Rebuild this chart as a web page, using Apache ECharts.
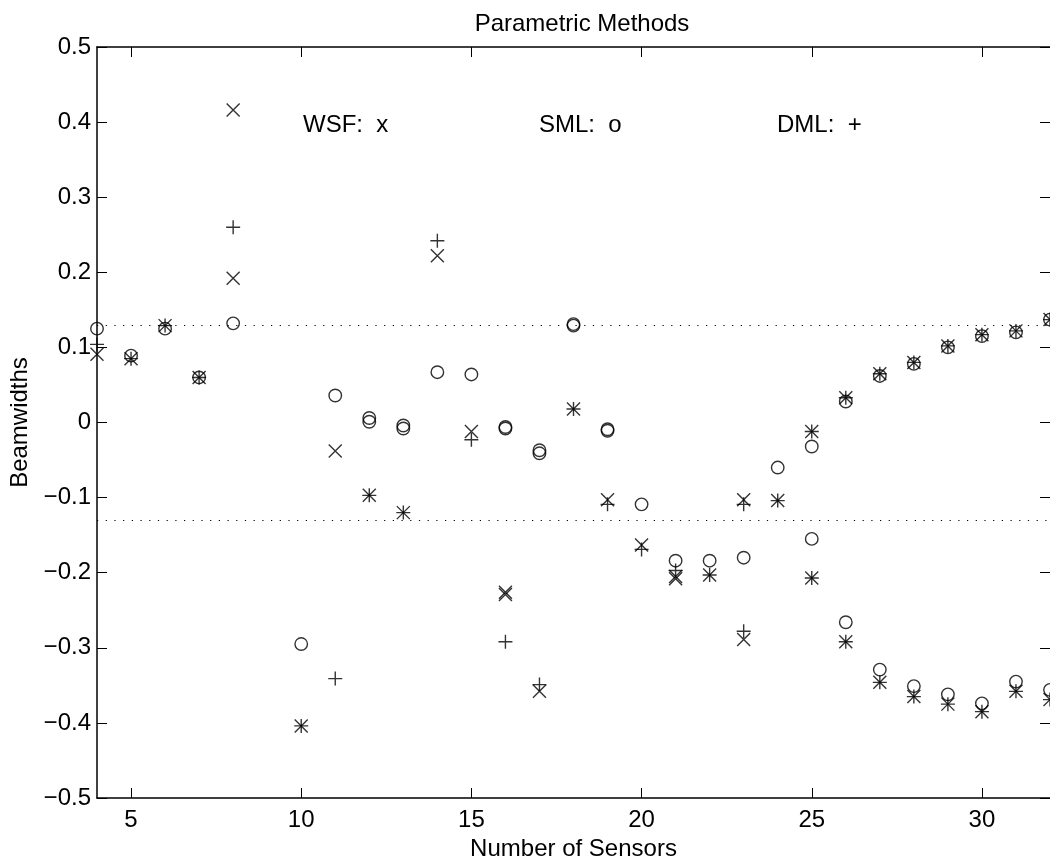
<!DOCTYPE html>
<html>
<head>
<meta charset="utf-8">
<script src="https://cdn.jsdelivr.net/npm/echarts@6/dist/echarts.min.js"></script>
<style>
html,body{margin:0;padding:0;background:#fff;}
#chart{width:1050px;height:866px;}
</style>
</head>
<body>
<div id="chart"></div>
<script>
// ---- data ----
const sensors = [4,5,6,7,8,9,10,11,12,13,14,15,16,17,18,19,20,21,22,23,24,25,26,27,28,29,30,31,32];
const wsfA = [0.091,0.085,0.129,0.060,0.416,null,-0.404,-0.038,-0.097,-0.120,0.222,-0.012,-0.226,-0.358,0.018,-0.103,-0.163,-0.205,-0.203,-0.103,-0.104,-0.012,0.033,0.065,0.080,0.102,0.117,0.122,0.137];
const wsfB = [null,null,null,null,0.192,null,null,null,null,null,null,null,-0.229,null,null,null,null,-0.208,null,-0.289,null,-0.207,-0.292,-0.346,-0.365,-0.375,-0.385,-0.358,-0.369];
const smlA = [0.125,0.089,0.125,0.060,0.132,null,-0.295,0.036,0.006,-0.004,0.067,0.064,-0.006,-0.037,0.131,-0.009,-0.109,-0.184,-0.184,-0.180,-0.060,-0.032,0.028,0.062,0.078,0.100,0.115,0.120,0.137];
const smlB = [null,null,null,null,null,null,null,null,0.001,-0.008,null,null,-0.008,-0.041,0.129,-0.011,null,null,null,null,null,-0.155,-0.266,-0.329,-0.351,-0.362,-0.374,-0.345,-0.356];
const dmlA = [0.104,0.085,0.129,0.060,0.260,null,-0.404,-0.341,-0.097,-0.120,0.242,-0.023,-0.292,-0.349,0.018,-0.109,-0.169,-0.197,-0.203,-0.109,-0.104,-0.012,0.033,0.065,0.080,0.102,0.117,0.122,0.137];
const dmlB = [null,null,null,null,null,null,null,null,null,null,null,null,null,null,null,null,null,null,null,-0.278,null,-0.207,-0.292,-0.346,-0.365,-0.375,-0.385,-0.358,-0.369];
const thresholds = [0.125, -0.125];
const xTicks = [5,10,15,20,25,30];
const legendTexts = ['WSF:  x','SML:  o','DML:  +'];
const titleText = 'Parametric Methods';
const xName = 'Number of Sensors';
const yName = 'Beamwidths';

// ---- build ----
function pairs(a, b){
  const out = [];
  sensors.forEach((s,i)=>{
    if (a[i] !== null) out.push([s, a[i]]);
    if (b[i] !== null) out.push([s, b[i]]);
  });
  return out;
}
const FONT = '"Liberation Sans", Arial, Helvetica, sans-serif';
const fmtY = v => {
  const r = Math.round(v*10)/10;
  if (Math.abs(r) < 1e-9) return '0';
  return (r < 0 ? '\u2212' : '') + Math.abs(r).toFixed(1);
};
const markStyle = {color:'rgba(0,0,0,0)', borderColor:'#000', borderWidth:1.3};

const chart = echarts.init(document.getElementById('chart'), null, {renderer:'canvas'});
const xBase = {
  type:'value', min:4, max:32,
  splitLine:{show:false},
  axisLine:{onZero:false, lineStyle:{color:'#000', width:1.5}},
  axisTick:{inside:true, length:10, customValues:xTicks, lineStyle:{color:'#000', width:1}}
};
const yBase = {
  type:'value', min:-0.5, max:0.5, interval:0.1,
  splitLine:{show:false},
  axisLine:{onZero:false, lineStyle:{color:'#000', width:1.5}},
  axisTick:{inside:true, length:10, lineStyle:{color:'#000', width:1}}
};
const option = {
  animation:false,
  backgroundColor:'#fff',
  title:{text:titleText, left:577, textAlign:'center', top:7,
    textStyle:{fontFamily:FONT, fontSize:24, fontWeight:'normal', color:'#000'}},
  grid:{left:97, right:0, top:47, bottom:68, containLabel:false},
  xAxis:[
    Object.assign({}, xBase, {position:'bottom',
      name:xName, nameLocation:'middle', nameGap:36,
      nameTextStyle:{fontFamily:FONT, fontSize:24, color:'#000'},
      axisLabel:{customValues:xTicks, margin:10, fontFamily:FONT, fontSize:24, color:'#000'}}),
    Object.assign({}, xBase, {position:'top', axisLabel:{show:false}})
  ],
  yAxis:[
    Object.assign({}, yBase, {position:'left',
      name:yName, nameLocation:'middle', nameGap:62, nameRotate:90,
      nameTextStyle:{fontFamily:FONT, fontSize:24, color:'#000'},
      axisLabel:{margin:6, formatter:fmtY, fontFamily:FONT, fontSize:24, color:'#000'}}),
    Object.assign({}, yBase, {position:'right', axisLabel:{show:false},
      axisLine:{show:false, onZero:false},
      axisTick:{show:true, inside:true, length:10, lineStyle:{color:'#000', width:1}}})
  ],
  graphic:[
    {type:'text', left:303, top:113, style:{text:legendTexts[0], font:'24px '+FONT, fill:'#000'}},
    {type:'text', left:539, top:113, style:{text:legendTexts[1], font:'24px '+FONT, fill:'#000'}},
    {type:'text', left:777, top:113, style:{text:legendTexts[2], font:'24px '+FONT, fill:'#000'}}
  ],
  series:[
    {type:'scatter', name:'WSF', xAxisIndex:0, yAxisIndex:0, clip:false,
      symbol:'path://M0,0L10,10M10,0L0,10', symbolSize:13,
      itemStyle:Object.assign({}, markStyle, {borderWidth:1.4}),
      data:pairs(wsfA, wsfB),
      markLine:{silent:true, symbol:'none', label:{show:false},
        lineStyle:{color:'#000', width:1.2, type:[1.2,7.5]},
        data:thresholds.map(t=>({yAxis:t}))}
    },
    {type:'scatter', name:'SML', xAxisIndex:0, yAxisIndex:0, clip:false,
      symbol:'circle', symbolSize:12.5,
      itemStyle:Object.assign({}, markStyle, {borderWidth:1.4}),
      data:pairs(smlA, smlB)},
    {type:'scatter', name:'DML', xAxisIndex:0, yAxisIndex:0, clip:false,
      symbol:'path://M5,0L5,10M0,5L10,5', symbolSize:14,
      itemStyle:Object.assign({}, markStyle, {borderWidth:1.4}),
      data:pairs(dmlA, dmlB)}
  ]
};
chart.setOption(option);
</script>
</body>
</html>
